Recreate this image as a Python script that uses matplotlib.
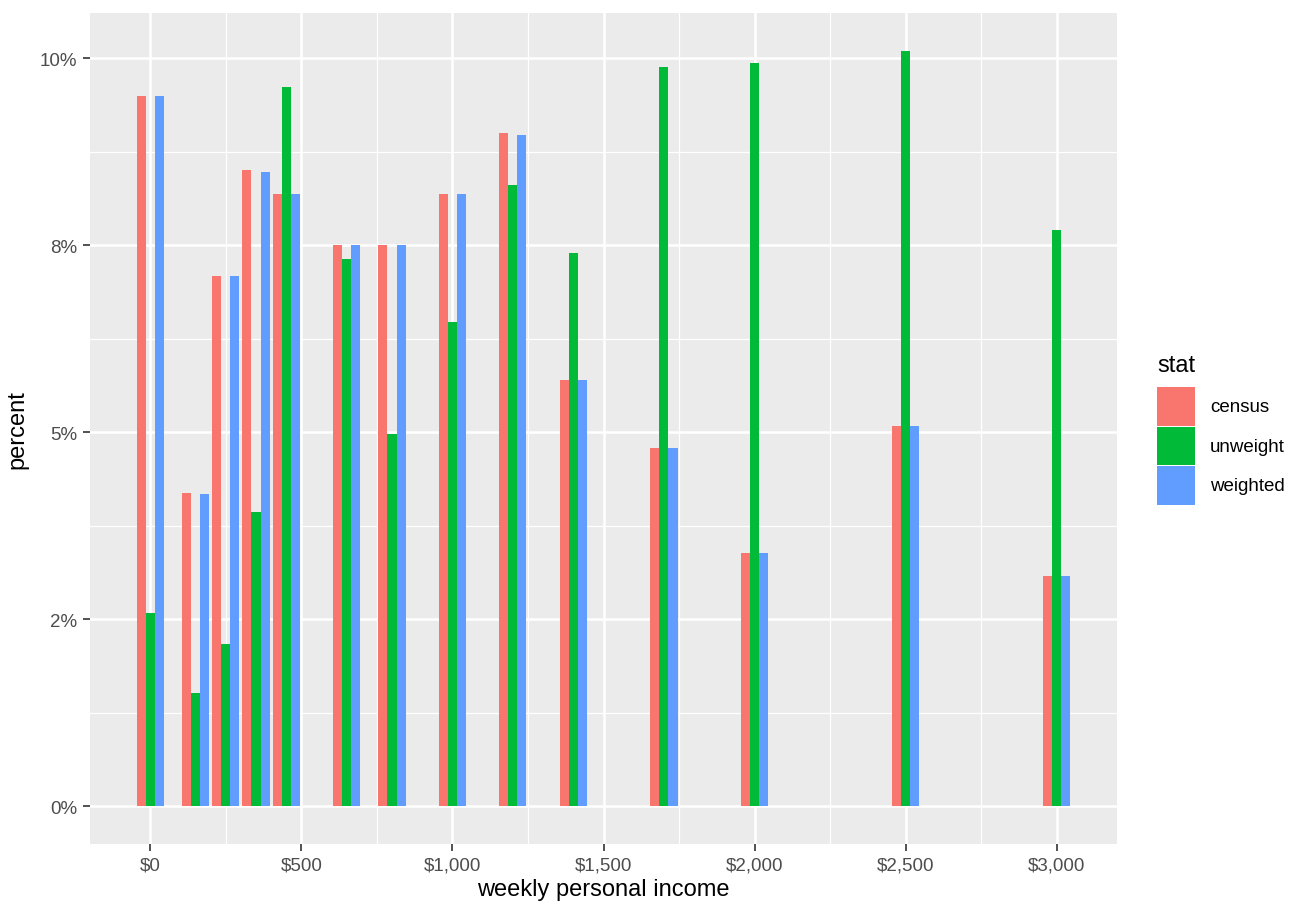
import matplotlib
matplotlib.use("Agg")
import matplotlib.pyplot as plt
from matplotlib.patches import Rectangle
import numpy as np

plt.rcParams['font.family'] = ['Liberation Sans', 'DejaVu Sans']

income = [0, 150, 250, 350, 450, 650, 800, 1000, 1200, 1400, 1700, 2000, 2500, 3000]
census = [9.49, 4.19, 7.09, 8.50, 8.19, 7.50, 7.50, 8.19, 9.00, 5.70, 4.79, 3.38, 5.08, 3.08]
unweight = [2.59, 1.52, 2.17, 3.94, 9.62, 7.31, 4.97, 6.47, 8.30, 7.39, 9.88, 9.93, 10.10, 7.70]
weighted = [9.49, 4.18, 7.09, 8.48, 8.19, 7.50, 7.50, 8.19, 8.98, 5.70, 4.79, 3.38, 5.08, 3.08]
series_names = ['census', 'unweight', 'weighted']
colors = ['#F8766D', '#00BA38', '#619CFF']
x_ticks = [0, 500, 1000, 1500, 2000, 2500, 3000]
x_labels = ['$0', '$500', '$1,000', '$1,500', '$2,000', '$2,500', '$3,000']
y_ticks = [0, 2.5, 5, 7.5, 10]
y_labels = ['0%', '2%', '5%', '8%', '10%']

W, H = 1295, 904
fig = plt.figure(figsize=(W / 100, H / 100), dpi=100)
ax = fig.add_axes([90 / W, (H - 845) / H, (1117 - 90) / W, (845 - 14) / H])
ax.set_facecolor('#EBEBEB')

x = np.array(income, dtype=float)
bw = 30
for i, (vals, c) in enumerate(zip([census, unweight, weighted], colors)):
    ax.bar(x + (i - 1) * bw, vals, width=bw, color=c, zorder=3, linewidth=0)

ax.set_xlim(-199.5, 3199.5)
ax.set_ylim(-0.505, 10.605)

ax.set_xticks(x_ticks)
ax.set_xticklabels(x_labels)
ax.set_yticks(y_ticks)
ax.set_yticklabels(y_labels)
ax.set_xticks([250, 750, 1250, 1750, 2250, 2750], minor=True)
ax.set_yticks([1.25, 3.75, 6.25, 8.75], minor=True)

ax.grid(which='major', color='white', linewidth=1.8, zorder=0)
ax.grid(which='minor', color='white', linewidth=0.9, zorder=0)
ax.set_axisbelow(True)
for s in ax.spines.values():
    s.set_visible(False)

ax.tick_params(axis='both', which='major', length=5, width=1.2, color='#333333',
               labelsize=13.5, labelcolor='#4D4D4D', pad=4)
ax.tick_params(axis='both', which='minor', length=0)

ax.set_xlabel('weekly personal income', fontsize=17, color='black', labelpad=3)
ax.set_ylabel('percent', fontsize=17, color='black', labelpad=8)

# legend
fig.text(1157 / W, 1 - 366 / H, 'stat', fontsize=17, va='center', ha='left')
key_top = 388
key_h = 39.5
for i, (name, c) in enumerate(zip(series_names, colors)):
    top = key_top + i * key_h
    fig.patches.append(Rectangle((1157 / W, 1 - (top + key_h - 1) / H), 38 / W, (key_h - 1) / H,
                                 transform=fig.transFigure, facecolor=c, edgecolor='none'))
    fig.text(1210 / W, 1 - (top + key_h / 2) / H, name, fontsize=13.5, va='center', ha='left')

fig.savefig('out.png', dpi=100, facecolor='white')
